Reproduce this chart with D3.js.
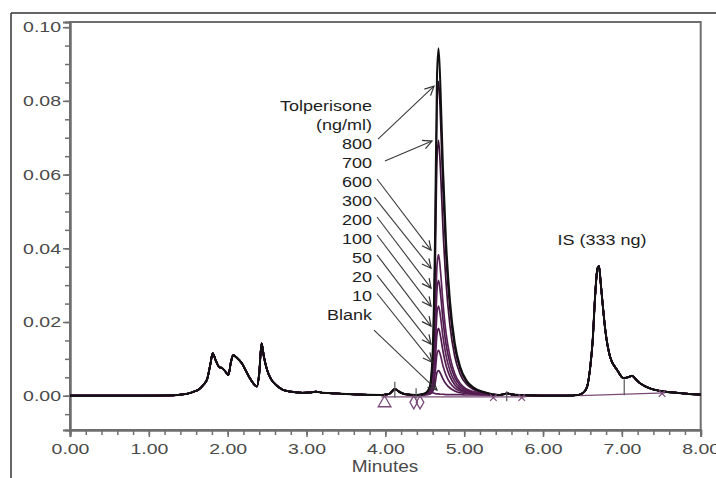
<!DOCTYPE html>
<html>
<head>
<meta charset="utf-8">
<script src="https://cdn.jsdelivr.net/npm/d3@7"></script>
<style>
  body { margin: 0; background: #fff; }
  text { font-family: "Liberation Sans", Arial, sans-serif; }
</style>
</head>
<body>
<svg id="chart" width="716" height="478"></svg>
<script>
// common part of every run, before the tolperisone peak (minutes, AU)
const traceStart = [
  [0.00, 0.0000], [0.40, 0.0000], [1.00, 0.0000], [1.30, 0.0001], [1.40, 0.0003],
  [1.50, 0.0006], [1.57, 0.0011], [1.64, 0.0018], [1.69, 0.0029], [1.74, 0.0045],
  [1.78, 0.0085], [1.81, 0.0115], [1.85, 0.0095], [1.89, 0.0078], [1.93, 0.0075],
  [1.97, 0.0066], [2.01, 0.0056], [2.04, 0.0090], [2.07, 0.0110], [2.12, 0.0102],
  [2.18, 0.0088], [2.23, 0.0068], [2.28, 0.0048], [2.33, 0.0032], [2.37, 0.0025],
  [2.40, 0.0060], [2.43, 0.0142], [2.46, 0.0105], [2.50, 0.0070], [2.55, 0.0045],
  [2.62, 0.0028], [2.70, 0.0016], [2.80, 0.0011], [2.95, 0.0008], [3.05, 0.0009],
  [3.12, 0.0011], [3.20, 0.0008], [3.40, 0.0006], [3.70, 0.0003], [3.95, 0.0002],
  [4.05, 0.0005], [4.12, 0.0018], [4.18, 0.0010], [4.25, 0.0004], [4.40, 0.0002]
];

// common part after the tolperisone peak, incl. the IS peak
const traceEnd = [
  [5.50, 0.0004], [5.55, 0.0006], [5.62, 0.0003], [5.80, 0.0001], [6.00, 0.0000],
  [6.30, 0.0000], [6.45, 0.0002], [6.52, 0.0010], [6.56, 0.0025], [6.60, 0.0080],
  [6.63, 0.0150], [6.66, 0.0268], [6.69, 0.0345], [6.71, 0.0352], [6.73, 0.0310],
  [6.76, 0.0240], [6.79, 0.0178], [6.85, 0.0106], [6.94, 0.0070], [7.02, 0.0048],
  [7.08, 0.0050], [7.13, 0.0054], [7.18, 0.0044], [7.23, 0.0034], [7.30, 0.0025],
  [7.40, 0.0017], [7.55, 0.0011], [7.70, 0.0008], [7.85, 0.0005], [8.00, 0.0003]
];

// tolperisone peak region
const peakTimes = [4.50, 4.56, 4.60, 4.63, 4.655, 4.675, 4.70, 4.73, 4.77, 4.82, 4.88, 4.95, 5.03, 5.12, 5.25, 5.45];
const peakBlank = [0.0003, 0.0010, 0.0008, 0.0006, 0.0005, 0.0005, 0.0004, 0.0004, 0.0003, 0.0003, 0.0003, 0.0003, 0.0002, 0.0002, 0.0002, 0.0002];
const peak10  = [0.0003, 0.0004, 0.0011, 0.0032, 0.0063, 0.0068, 0.0060, 0.0046, 0.0032, 0.0021, 0.0013, 0.0008, 0.0006, 0.0004, 0.0003, 0.0002];
const peak20  = [0.0003, 0.0005, 0.0017, 0.0057, 0.0113, 0.0123, 0.0109, 0.0082, 0.0056, 0.0035, 0.0021, 0.0013, 0.0008, 0.0005, 0.0004, 0.0002];
const peak50  = [0.0004, 0.0007, 0.0025, 0.0084, 0.0168, 0.0183, 0.0161, 0.0122, 0.0082, 0.0052, 0.0030, 0.0017, 0.0010, 0.0007, 0.0004, 0.0002];
const peak100 = [0.0004, 0.0008, 0.0032, 0.0111, 0.0224, 0.0243, 0.0214, 0.0161, 0.0109, 0.0068, 0.0039, 0.0022, 0.0013, 0.0008, 0.0005, 0.0002];
const peak200 = [0.0004, 0.0009, 0.0040, 0.0143, 0.0288, 0.0313, 0.0276, 0.0208, 0.0139, 0.0087, 0.0050, 0.0028, 0.0015, 0.0009, 0.0005, 0.0002];
const peak300 = [0.0004, 0.0011, 0.0049, 0.0174, 0.0353, 0.0383, 0.0337, 0.0254, 0.0170, 0.0106, 0.0060, 0.0033, 0.0018, 0.0011, 0.0006, 0.0002];
const peak600 = [0.0005, 0.0017, 0.0086, 0.0314, 0.0638, 0.0693, 0.0610, 0.0458, 0.0307, 0.0189, 0.0107, 0.0058, 0.0031, 0.0017, 0.0008, 0.0002];
const peak700 = [0.0006, 0.0020, 0.0105, 0.0386, 0.0785, 0.0853, 0.0751, 0.0564, 0.0377, 0.0233, 0.0131, 0.0071, 0.0037, 0.0020, 0.0009, 0.0002];
const peak800 = [0.0006, 0.0022, 0.0116, 0.0426, 0.0868, 0.0943, 0.0830, 0.0623, 0.0417, 0.0257, 0.0144, 0.0078, 0.0041, 0.0022, 0.0010, 0.0002];

const levels = ["Blank", "10", "20", "50", "100", "200", "300", "600", "700", "800"];
const peaks = [peakBlank, peak10, peak20, peak50, peak100, peak200, peak300, peak600, peak700, peak800];
const traceColors = ["#5a2258", "#4e1a4c", "#5a2258", "#4e1a4c", "#5a2258", "#4e1a4c", "#5a2258", "#3c1239", "#2a0c28", "#111"];

const labelLines = ["Tolperisone", "(ng/ml)", "800", "700", "600", "300", "200", "100", "50", "20", "10", "Blank"];

// arrows from labels to peaks [t1, v1, t2, v2]
const arrows = [
  [3.907, 0.0696, 4.617, 0.0840],
  [3.995, 0.0637, 4.592, 0.0691],
  [3.894, 0.0588, 4.579, 0.0395],
  [3.860, 0.0539, 4.579, 0.0346],
  [3.894, 0.0485, 4.579, 0.0292],
  [3.894, 0.0436, 4.579, 0.0243],
  [3.894, 0.0382, 4.579, 0.0189],
  [3.894, 0.0327, 4.579, 0.0140],
  [3.894, 0.0278, 4.592, 0.0091],
  [3.856, 0.0178, 4.655, 0.0015]
];

// integration marks
const baselines = [[[3.95, -0.0003], [5.78, -0.0003]], [[6.47, 0.0000], [7.55, 0.0008]]];
const dropLines = [[4.12, 0.0038, -0.0005], [4.39, 0.0020, -0.0008], [5.54, 0.0012, -0.0015], [7.03, 0.0045, 0.0001]];
const triangles = [[3.99, -0.0020]];
const diamonds = [[4.36, -0.0018], [4.44, -0.0018]];
const crosses = [[5.37, -0.0005], [5.73, -0.0005], [7.51, 0.0006]];

const xTicks = [0, 1, 2, 3, 4, 5, 6, 7, 8];
const yTicks = [0, 0.02, 0.04, 0.06, 0.08, 0.10];

const svg = d3.select("#chart");
const plotLeft = 70, plotRight = 700.7, plotTop = 22, plotBottom = 430;

const x = d3.scaleLinear().domain([0, 8]).range([plotLeft, plotRight]);
const y = d3.scaleLinear().domain([-0.0093, 0.1014]).range([plotBottom, plotTop]);

// outer frame
svg.append("line").attr("x1", 11).attr("x2", 11).attr("y1", 13).attr("y2", 478)
  .attr("stroke", "#333").attr("stroke-width", 1.5);
svg.append("line").attr("x1", 11).attr("x2", 716).attr("y1", 13).attr("y2", 13)
  .attr("stroke", "#333").attr("stroke-width", 1.5);

// plot box
svg.append("rect").attr("x", plotLeft).attr("y", plotTop)
  .attr("width", plotRight - plotLeft).attr("height", plotBottom - plotTop)
  .attr("fill", "none").attr("stroke", "#6e6e6e").attr("stroke-width", 2);

// axes
const gx = svg.append("g").attr("transform", `translate(0,${plotBottom})`);
gx.append("g").call(d3.axisBottom(x).tickValues(d3.range(0, 8.001, 0.2)).tickSize(5).tickFormat(""));
gx.append("g").call(d3.axisBottom(x).tickValues(xTicks).tickSize(7).tickPadding(6).tickFormat(d3.format(".2f")));

const gy = svg.append("g").attr("transform", `translate(${plotLeft},0)`);
gy.append("g").call(d3.axisLeft(y).tickValues(d3.range(-0.005, 0.1001, 0.005)).tickSize(5).tickFormat(""));
gy.append("g").call(d3.axisLeft(y).tickValues(yTicks).tickSize(7).tickPadding(2).tickFormat(d3.format(".2f")));

svg.selectAll(".domain").attr("stroke", "#6e6e6e").attr("stroke-width", 2);
svg.selectAll(".tick line").attr("stroke", "#6e6e6e").attr("stroke-width", 1.5);
gx.selectAll("text").attr("font-size", 15).attr("fill", "#4a4a4a")
  .attr("transform", "scale(1.3,1)");
gy.selectAll("text").attr("font-size", 15).attr("fill", "#4a4a4a")
  .attr("x", -9 / 1.3).attr("transform", "scale(1.3,1)");

svg.append("text").attr("transform", `translate(${x(3.995)},472) scale(1.12,1)`)
  .attr("text-anchor", "middle").attr("font-size", 17).attr("fill", "#4a4a4a")
  .text("Minutes");

// traces
const line = d3.line().x(d => x(d[0])).y(d => y(d[1])).curve(d3.curveMonotoneX);
const plot = svg.append("g");

peaks.forEach((p, i) => {
  const pts = traceStart.concat(peakTimes.map((t, j) => [t, p[j]]), traceEnd);
  plot.append("path")
    .attr("d", line(pts))
    .attr("fill", "none")
    .attr("stroke", traceColors[i])
    .attr("stroke-width", i === peaks.length - 1 ? 2 : 1.7)
    .attr("stroke-linejoin", "round");
});

// integration marks
const markColor = "#7a4a78";
plot.selectAll(".bl").data(baselines).join("line")
  .attr("x1", d => x(d[0][0])).attr("y1", d => y(d[0][1]))
  .attr("x2", d => x(d[1][0])).attr("y2", d => y(d[1][1]))
  .attr("stroke", markColor).attr("stroke-width", 1.3);
plot.selectAll(".drop").data(dropLines).join("line")
  .attr("x1", d => x(d[0])).attr("x2", d => x(d[0]))
  .attr("y1", d => y(d[1])).attr("y2", d => y(d[2]))
  .attr("stroke", "#555").attr("stroke-width", 1.2);
plot.selectAll(".tri").data(triangles).join("path")
  .attr("d", d3.symbol(d3.symbolTriangle, 70))
  .attr("transform", d => `translate(${x(d[0])},${y(d[1])})`)
  .attr("fill", "none").attr("stroke", markColor).attr("stroke-width", 1.3);
plot.selectAll(".dia").data(diamonds).join("path")
  .attr("d", d3.symbol(d3.symbolDiamond, 50))
  .attr("transform", d => `translate(${x(d[0])},${y(d[1])})`)
  .attr("fill", "none").attr("stroke", markColor).attr("stroke-width", 1.3);
plot.selectAll(".cross").data(crosses).join("path")
  .attr("d", d3.symbol(d3.symbolX, 30))
  .attr("transform", d => `translate(${x(d[0])},${y(d[1])})`)
  .attr("fill", "none").attr("stroke", markColor).attr("stroke-width", 1.2);

// arrow marker
svg.append("defs").append("marker")
  .attr("id", "arr").attr("viewBox", "-10 -6 12 12")
  .attr("refX", 0).attr("refY", 0)
  .attr("markerWidth", 12).attr("markerHeight", 12)
  .attr("markerUnits", "userSpaceOnUse").attr("orient", "auto")
  .append("path").attr("d", "M-9,-4.5 L0,0 L-9,4.5")
  .attr("fill", "none").attr("stroke", "#333").attr("stroke-width", 1.2);

svg.append("g").selectAll("line").data(arrows).join("line")
  .attr("x1", d => x(d[0])).attr("y1", d => y(d[1]))
  .attr("x2", d => x(d[2])).attr("y2", d => y(d[3]))
  .attr("stroke", "#3a3a3a").attr("stroke-width", 1.1)
  .attr("marker-end", "url(#arr)");

// labels
const labelX = x(3.83);
svg.append("g").selectAll("text").data(labelLines).join("text")
  .attr("transform", (d, i) => `translate(${labelX},${y(0.0772) + i * 19}) scale(1.2,1)`)
  .attr("text-anchor", "end").attr("font-size", 15).attr("fill", "#1e1e1e")
  .text(d => d);

svg.append("text")
  .attr("transform", `translate(${x(6.748)},${y(0.0409)}) scale(1.2,1)`)
  .attr("text-anchor", "middle").attr("font-size", 15).attr("fill", "#1e1e1e")
  .text("IS (333 ng)");
</script>
</body>
</html>
